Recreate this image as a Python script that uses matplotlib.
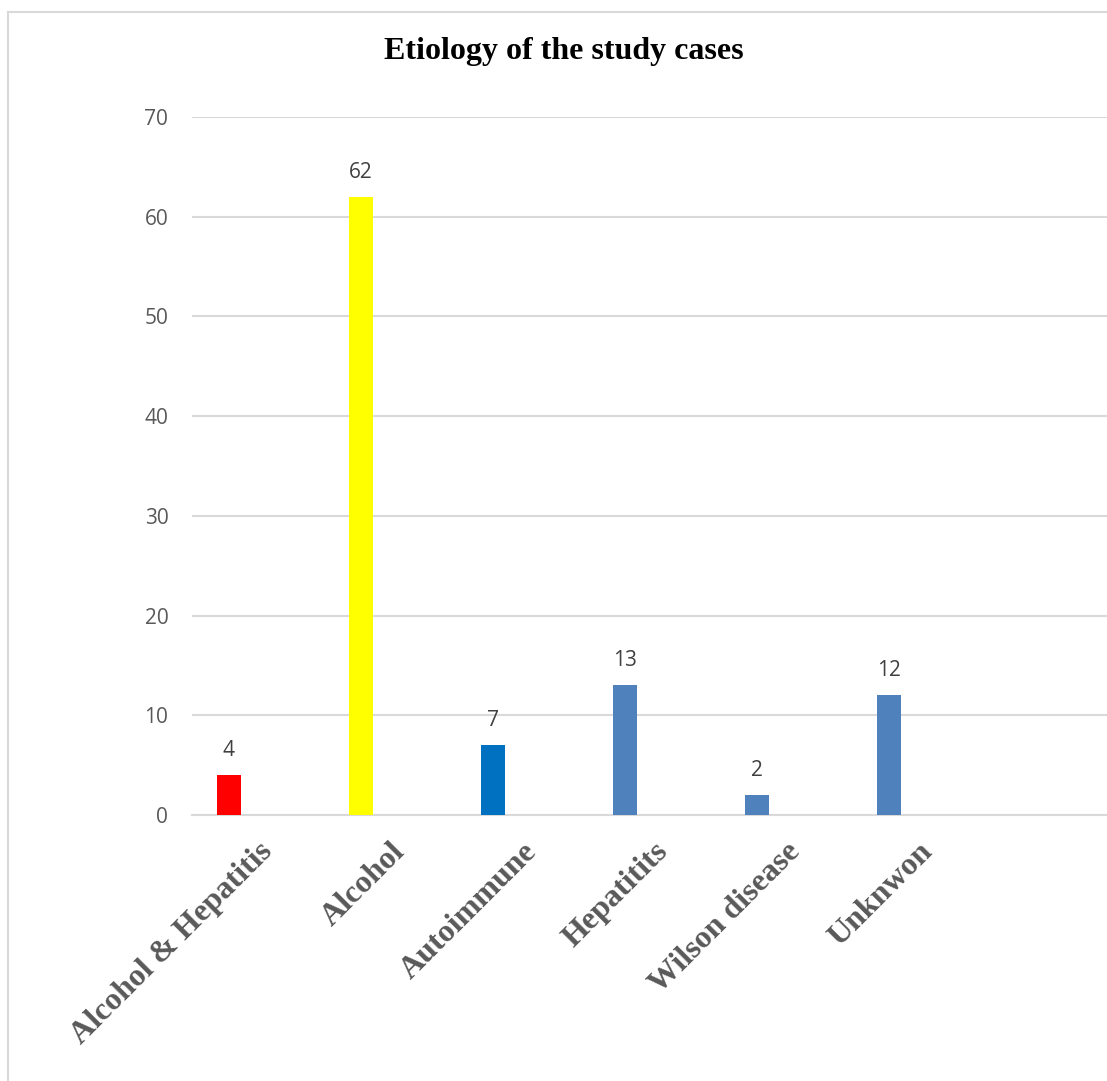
import matplotlib
matplotlib.use("Agg")
import matplotlib.pyplot as plt
from matplotlib.lines import Line2D

categories = ["Alcohol & Hepatitis", "Alcohol", "Autoimmune", "Hepatitits",
              "Wilson disease", "Unknwon"]
cases = [4, 62, 7, 13, 2, 12]
bar_colors = ["#FF0000", "#FFFF00", "#0070C0", "#4F81BD", "#4F81BD", "#4F81BD"]
y_ticks = [0, 10, 20, 30, 40, 50, 60, 70]

fig = plt.figure(figsize=(11.07, 10.81), dpi=100)
ax = fig.add_axes([0.1734, 0.246, 1 - 0.1734, 0.8918 - 0.246])

x = list(range(len(categories)))
bar_x = [i - 0.22 for i in x]
ax.bar(bar_x, cases, width=0.18, color=bar_colors, zorder=3)

for bx, v in zip(bar_x, cases):
    ax.text(bx, v + 1.4, str(v), ha="center", va="bottom",
            fontsize=15, color="#404040", family="Open Sans")

ax.set_ylim(0, 70)
ax.set_xlim(-0.5, 6.43)
ax.set_yticks(y_ticks)
ax.set_yticklabels([str(t) for t in y_ticks], fontsize=15, color="#595959",
                   family="Open Sans")
ax.yaxis.grid(True, color="#D9D9D9", linewidth=1.5, zorder=0)
ax.set_axisbelow(True)
ax.tick_params(axis="y", length=0, pad=17)
ax.tick_params(axis="x", length=0, pad=16)

ax.set_xticks(x)
ax.set_xticklabels(categories, rotation=45, ha="right", rotation_mode="anchor",
                   fontsize=23, fontweight="bold", color="#595959",
                   family="Liberation Serif")

for s in ["top", "right", "left"]:
    ax.spines[s].set_visible(False)
ax.spines["bottom"].set_color("#D9D9D9")
ax.spines["bottom"].set_linewidth(1.5)

fig.text(0.509, 0.952, "Etiology of the study cases", ha="center", va="center",
         fontsize=23, fontweight="bold", family="Liberation Serif", color="black")

# outer chart border (left and top only visible)
fig.add_artist(Line2D([8 / 1107, 8 / 1107], [0, 1 - 12 / 1081],
                      transform=fig.transFigure, color="#D9D9D9", linewidth=1.5))
fig.add_artist(Line2D([8 / 1107, 1], [1 - 12 / 1081, 1 - 12 / 1081],
                      transform=fig.transFigure, color="#D9D9D9", linewidth=1.5))

fig.savefig("out.png", dpi=100, facecolor="white")
